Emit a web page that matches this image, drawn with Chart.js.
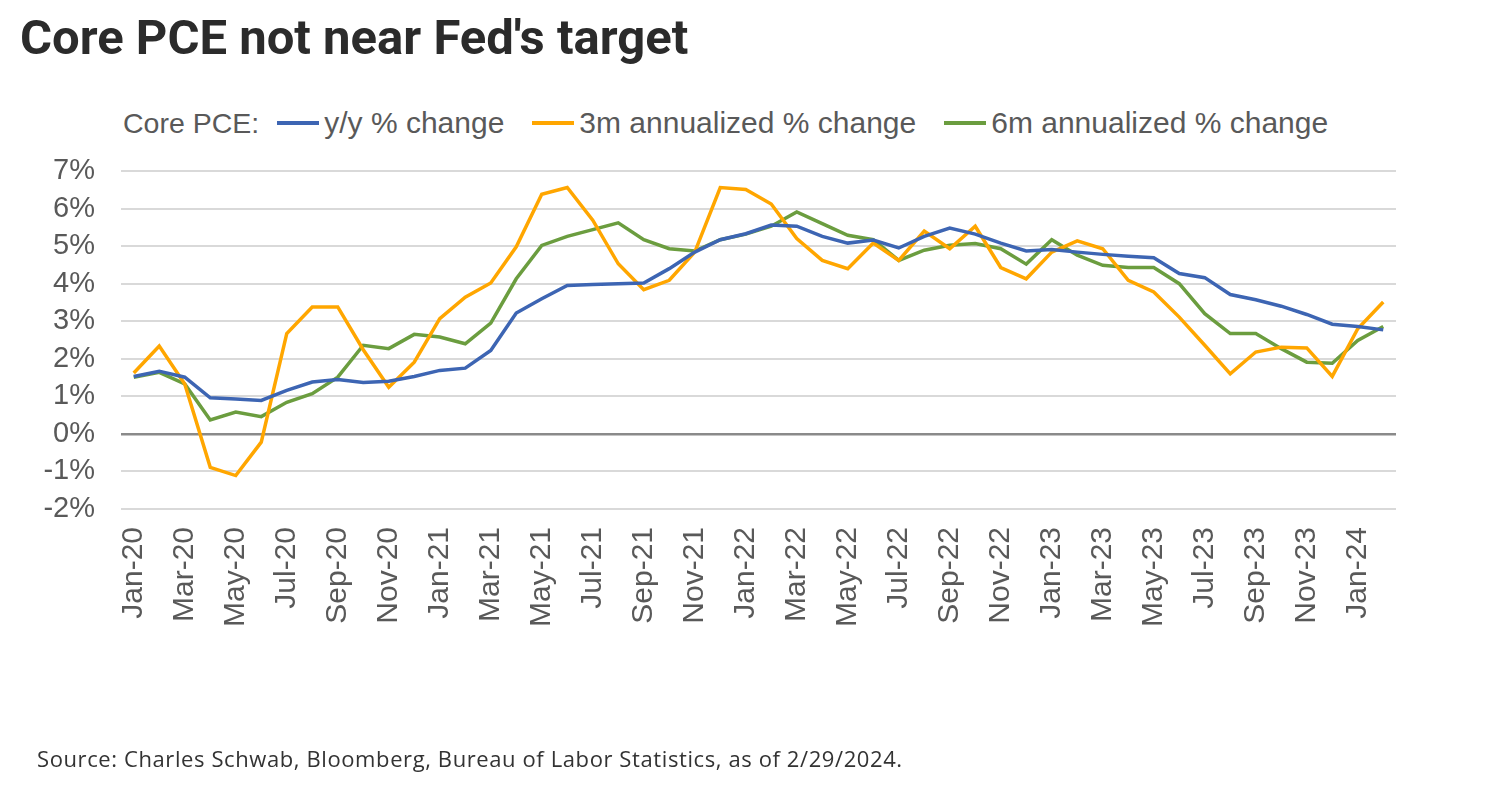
<!DOCTYPE html>
<html>
<head>
<meta charset="utf-8">
<script src="https://cdn.jsdelivr.net/npm/chart.js@4.4.1/dist/chart.umd.min.js"></script>
<style>
  html, body { margin: 0; padding: 0; background: #fff; }
  body { width: 1506px; height: 792px; position: relative; overflow: hidden; }
  #chart { position: absolute; left: 0; top: 0; }
  .title {
    position: absolute; left: 20px; top: 9px;
    font-family: Roboto, sans-serif; font-weight: 700; font-size: 49px;
    color: #2b2b2b;
  }
  .legend {
    position: absolute; left: 123px; top: 106px; display: flex; align-items: center;
    font-family: "Liberation Sans", Arial, sans-serif; font-size: 30px; color: #595959;
    white-space: nowrap;
  }
  .legend .lead { font-size: 28.5px; margin-right: 18px; }
  .legend .item { display: flex; align-items: center; margin-right: 28px; }
  .legend .swatch { width: 42px; height: 4px; margin-right: 5px; }
  .source {
    position: absolute; left: 37px; top: 743px;
    font-family: "Open Sans", sans-serif; font-size: 22px; letter-spacing: 0.6px; color: #333;
  }
</style>
</head>
<body>
<div class="title">Core PCE not near Fed's target</div>
<div class="legend" id="legend"><span class="lead">Core PCE:</span></div>
<canvas id="chart" width="1506" height="792"></canvas>
<div class="source">Source: Charles Schwab, Bloomberg, Bureau of Labor Statistics, as of 2/29/2024.</div>
<script>
const months = ['Jan','Feb','Mar','Apr','May','Jun','Jul','Aug','Sep','Oct','Nov','Dec'];
const labels = [];
for (let y = 20; y <= 24; y++) {
    months.forEach(m => labels.push(`${m}-${y}`));
}
labels.length = 50; // Jan-20 .. Feb-24

const yoy = [1.53, 1.67, 1.51, 0.96, 0.93, 0.89, 1.16, 1.38, 1.45, 1.37,
             1.40, 1.53, 1.69, 1.75, 2.22, 3.22, 3.60, 3.95, 3.98, 4.00,
             4.02, 4.40, 4.84, 5.17, 5.33, 5.56, 5.53, 5.26, 5.08, 5.16,
             4.95, 5.26, 5.48, 5.32, 5.08, 4.87, 4.91, 4.84, 4.78, 4.73,
             4.69, 4.27, 4.16, 3.71, 3.57, 3.40, 3.18, 2.92, 2.86, 2.77];

const ann3m = [1.62, 2.34, 1.33, -0.89, -1.11, -0.22, 2.67, 3.38, 3.38, 2.24,
               1.24, 1.91, 3.07, 3.64, 4.02, 4.98, 6.38, 6.56, 5.69, 4.53,
               3.84, 4.09, 4.84, 6.56, 6.51, 6.12, 5.20, 4.62, 4.40, 5.08,
               4.62, 5.40, 4.93, 5.53, 4.43, 4.13, 4.84, 5.14, 4.93, 4.09,
               3.78, 3.11, 2.36, 1.60, 2.18, 2.31, 2.29, 1.53, 2.80, 3.51];

const ann6m = [1.51, 1.64, 1.33, 0.37, 0.58, 0.46, 0.84, 1.07, 1.51, 2.36,
               2.27, 2.65, 2.58, 2.40, 2.95, 4.13, 5.02, 5.26, 5.44, 5.62,
               5.17, 4.93, 4.87, 5.17, 5.32, 5.53, 5.91, 5.60, 5.29, 5.17,
               4.62, 4.89, 5.02, 5.07, 4.93, 4.52, 5.17, 4.76, 4.49, 4.43,
               4.43, 4.00, 3.20, 2.67, 2.67, 2.27, 1.91, 1.88, 2.49, 2.86];

const series = [
    { label: 'y/y % change', data: yoy, color: '#3d65b3' },
    { label: '3m annualized % change', data: ann3m, color: '#ffa600' },
    { label: '6m annualized % change', data: ann6m, color: '#6b9d3f' },
];

// legend in html, "Core PCE:" lead-in
const legend = document.getElementById('legend');
series.forEach(s => {
    const item = document.createElement('span');
    item.className = 'item';
    item.innerHTML = `<span class="swatch" style="background:${s.color}"></span><span>${s.label}</span>`;
    legend.appendChild(item);
});

const tickFont = { family: '"Liberation Sans", Arial, sans-serif', size: 29 };

new Chart(document.getElementById('chart'), {
    type: 'line',
    data: {
        labels: labels,
        datasets: series.map(s => ({
            label: s.label,
            data: s.data,
            borderColor: s.color,
            backgroundColor: s.color,
            borderWidth: 3.5,
            pointRadius: 0,
            tension: 0,
            fill: false
        }))
    },
    options: {
        responsive: false,
        animation: false,
        layout: { padding: { top: 171, left: 0, right: 110, bottom: 163 } },
        plugins: {
            legend: { display: false },
            tooltip: { enabled: false }
        },
        scales: {
            x: {
                offset: true,
                grid: { display: false, drawTicks: false },
                border: { display: false },
                ticks: {
                    autoSkip: false,
                    minRotation: 90,
                    maxRotation: 90,
                    padding: 18,
                    color: '#595959',
                    font: { family: tickFont.family, size: 30 },
                    callback: (v, i) => i % 2 === 0 ? labels[i] : ''
                },
                afterFit: scale => { scale.height = 120; }
            },
            y: {
                min: -2,
                max: 7,
                ticks: {
                    stepSize: 1,
                    autoSkip: false,
                    padding: 26,
                    color: '#595959',
                    font: tickFont,
                    callback: v => v + '%'
                },
                grid: {
                    drawTicks: false,
                    color: ctx => ctx.tick.value === 0 ? '#8a8a8a' : '#d9d9d9',
                    lineWidth: ctx => ctx.tick.value === 0 ? 2.5 : 2
                },
                border: { display: false },
                afterFit: scale => { scale.width = 121; }
            }
        }
    }
});
</script>
</body>
</html>
